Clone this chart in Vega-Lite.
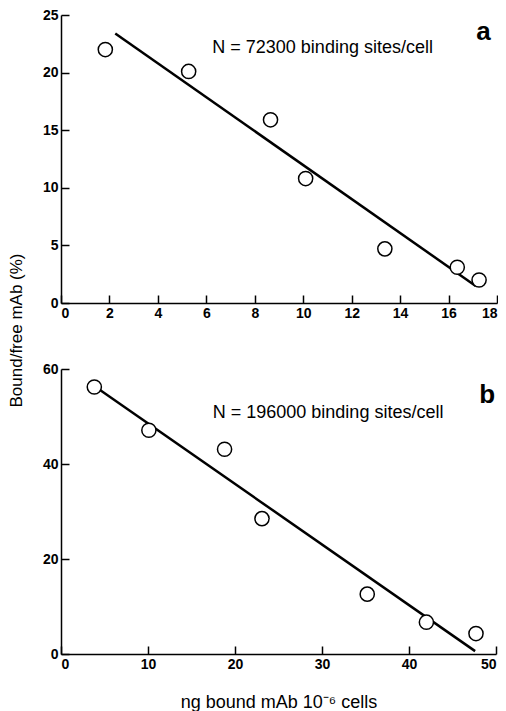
{
  "$schema": "https://vega.github.io/schema/vega-lite/v6.json",
  "padding": {"left": 7, "top": 8, "right": 0, "bottom": 0},
  "background": "white",
  "bounds": "flush",
  "spacing": 66,
  "datasets": {
    "ptsA": [
      {"x": 1.83, "y": 22.0},
      {"x": 5.27, "y": 20.1},
      {"x": 8.65, "y": 15.9},
      {"x": 10.1, "y": 10.8},
      {"x": 13.37, "y": 4.7},
      {"x": 16.36, "y": 3.1},
      {"x": 17.26, "y": 2.0}
    ],
    "lineA": [
      {"x": 2.24, "y": 23.4},
      {"x": 17.12, "y": 1.48}
    ],
    "ptsB": [
      {"x": 3.83, "y": 56.2},
      {"x": 10.1, "y": 47.1},
      {"x": 18.8, "y": 43.1},
      {"x": 23.1, "y": 28.5},
      {"x": 35.2, "y": 12.6},
      {"x": 42.0, "y": 6.7},
      {"x": 47.7, "y": 4.3}
    ],
    "lineB": [
      {"x": 4.4, "y": 55.7},
      {"x": 47.6, "y": 0.6}
    ]
  },
  "config": {
    "view": {"stroke": null},
    "axis": {
      "grid": false,
      "domainColor": "black",
      "domainWidth": 1.5,
      "tickColor": "black",
      "tickWidth": 1.5,
      "tickSize": -8,
      "labelColor": "black",
      "labelFont": "Liberation Sans",
      "labelFontSize": 14,
      "labelFontWeight": "bold",
      "labelPadding": 11,
      "titleColor": "black",
      "titleFont": "Liberation Sans",
      "titleFontWeight": "normal",
      "titleFontSize": 17
    },
    "text": {"font": "Liberation Sans", "color": "black"}
  },
  "vconcat": [
    {
      "width": 436,
      "height": 288,
      "layer": [
        {
          "data": {"name": "lineA"},
          "mark": {"type": "line", "color": "black", "strokeWidth": 2.5},
          "encoding": {
            "x": {"field": "x", "type": "quantitative", "scale": {"domain": [0, 18], "nice": false},
                  "axis": {"values": [0, 2, 4, 6, 8, 10, 12, 14, 16, 18], "title": null}},
            "y": {"field": "y", "type": "quantitative", "scale": {"domain": [0, 25], "nice": false},
                  "axis": {"values": [0, 5, 10, 15, 20, 25], "title": "Bound/free mAb (%)",
                           "titleX": -36, "titleY": 315, "titleAngle": -90, "titleAlign": "center", "titleBaseline": "bottom"}}
          }
        },
        {
          "data": {"name": "ptsA"},
          "mark": {"type": "point", "shape": "circle", "filled": false, "color": "black", "fill": "white", "fillOpacity": 1, "strokeWidth": 1.5, "size": 200, "opacity": 1},
          "encoding": {
            "x": {"field": "x", "type": "quantitative"},
            "y": {"field": "y", "type": "quantitative"}
          }
        },
        {
          "data": {"values": [{"x": 10.8, "y": 22.1, "t": "N = 72300 binding sites/cell"}]},
          "mark": {"type": "text", "fontSize": 18, "align": "center", "baseline": "middle"},
          "encoding": {
            "x": {"field": "x", "type": "quantitative"},
            "y": {"field": "y", "type": "quantitative"},
            "text": {"field": "t"}
          }
        },
        {
          "data": {"values": [{"x": 17.44, "y": 23.5, "t": "a"}]},
          "mark": {"type": "text", "fontSize": 26, "fontWeight": "bold", "align": "center", "baseline": "middle"},
          "encoding": {
            "x": {"field": "x", "type": "quantitative"},
            "y": {"field": "y", "type": "quantitative"},
            "text": {"field": "t"}
          }
        }
      ]
    },
    {
      "width": 435,
      "height": 285,
      "layer": [
        {
          "data": {"name": "lineB"},
          "mark": {"type": "line", "color": "black", "strokeWidth": 2.5},
          "encoding": {
            "x": {"field": "x", "type": "quantitative", "scale": {"domain": [0, 50], "nice": false},
                  "axis": {"values": [0, 10, 20, 30, 40, 50], "title": "ng bound mAb 10⁻⁶ cells", "titlePadding": 22, "titleFontSize": 18}},
            "y": {"field": "y", "type": "quantitative", "scale": {"domain": [0, 60], "nice": false},
                  "axis": {"values": [0, 20, 40, 60], "title": null}}
          }
        },
        {
          "data": {"name": "ptsB"},
          "mark": {"type": "point", "shape": "circle", "filled": false, "color": "black", "fill": "white", "fillOpacity": 1, "strokeWidth": 1.5, "size": 200, "opacity": 1},
          "encoding": {
            "x": {"field": "x", "type": "quantitative"},
            "y": {"field": "y", "type": "quantitative"}
          }
        },
        {
          "data": {"values": [{"x": 30.7, "y": 50.7, "t": "N = 196000 binding sites/cell"}]},
          "mark": {"type": "text", "fontSize": 18, "align": "center", "baseline": "middle"},
          "encoding": {
            "x": {"field": "x", "type": "quantitative"},
            "y": {"field": "y", "type": "quantitative"},
            "text": {"field": "t"}
          }
        },
        {
          "data": {"values": [{"x": 49.0, "y": 54.5, "t": "b"}]},
          "mark": {"type": "text", "fontSize": 26, "fontWeight": "bold", "align": "center", "baseline": "middle"},
          "encoding": {
            "x": {"field": "x", "type": "quantitative"},
            "y": {"field": "y", "type": "quantitative"},
            "text": {"field": "t"}
          }
        }
      ]
    }
  ]
}
